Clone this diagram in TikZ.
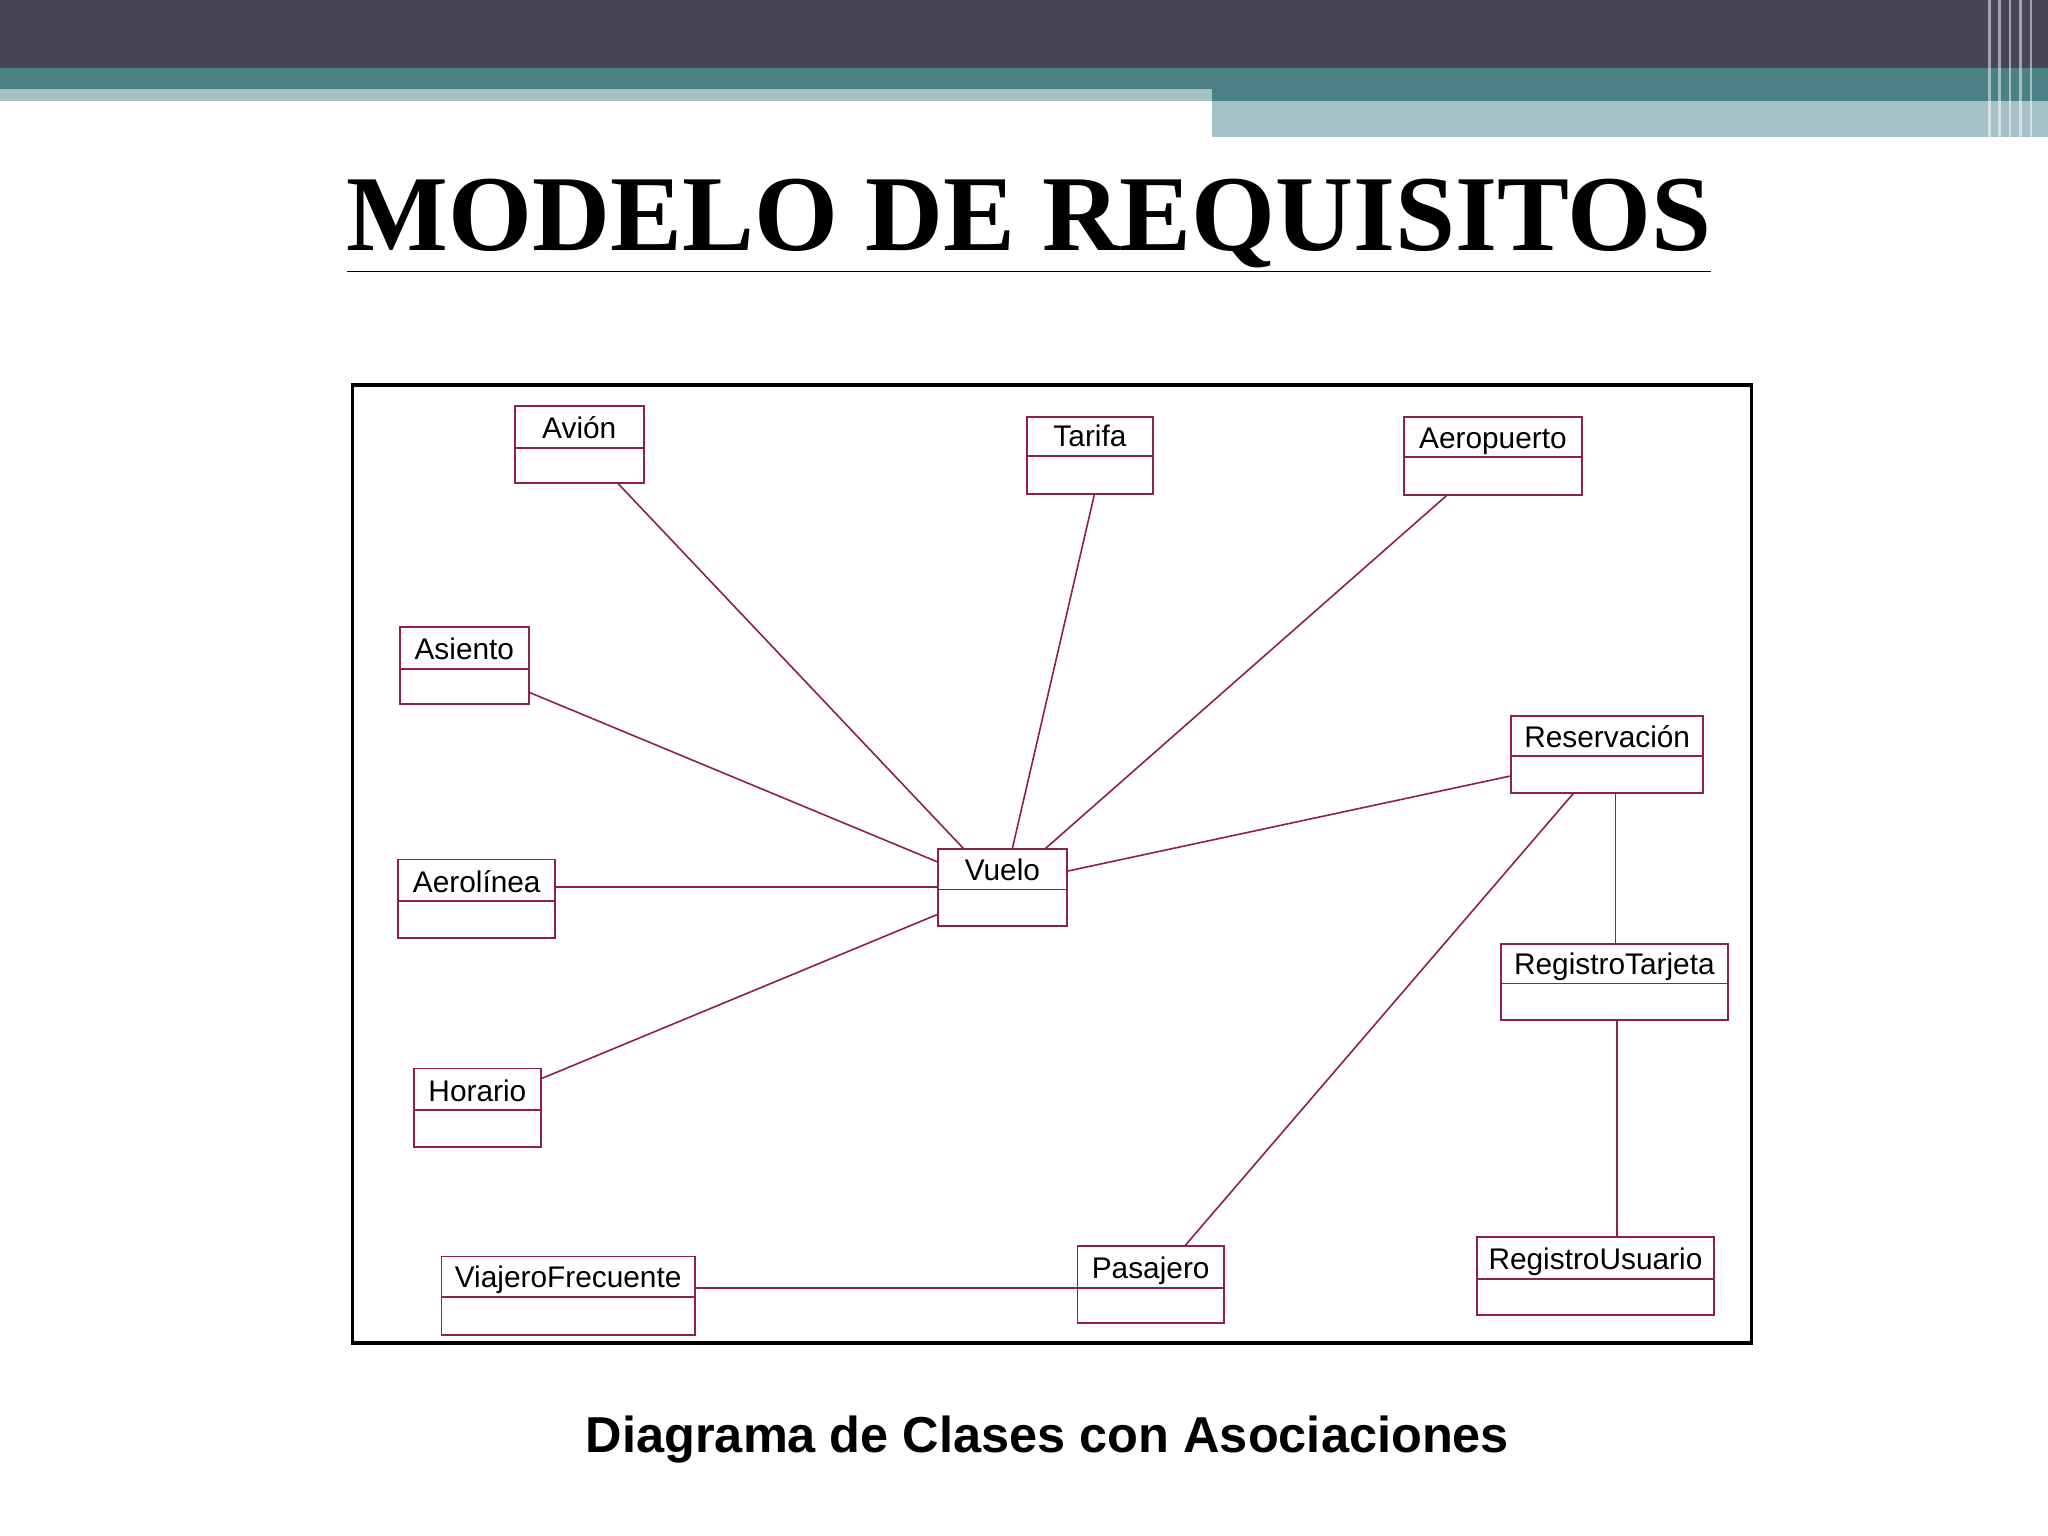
\documentclass[tikz,border=0pt]{standalone}
\usepackage{fontspec}
\setmainfont{Liberation Serif}
\setsansfont{Liberation Sans}
\usetikzlibrary{calc}
\definecolor{hdark}{HTML}{474657}
\definecolor{hteal}{HTML}{4A8086}
\definecolor{hlight}{HTML}{A4C2C5}
\definecolor{assoc}{HTML}{8E1F4F}
\tikzset{
  cls/.style={draw=assoc, line width=0.8pt, inner sep=0pt, outer sep=0pt},
  clsline/.style={draw=assoc, line width=0.8pt},
  clstext/.style={font=\sffamily\fontsize{13}{15}\selectfont, anchor=base},
  assocline/.style={draw=assoc, line width=0.7pt}
}
\newcommand\umlcls[7]{%
  \node[cls, anchor=north west, minimum width={(#4-#2)*0.02cm}, minimum height={(#6-#3)*0.02cm}] (#1) at (#2,#3) {};
  \draw[clsline] (#2,#5) -- (#4,#5);
  \node[clstext] (#1t) at ({(#2+#4)/2},{#5-7}) {#7};}
\begin{document}
\begin{tikzpicture}[x=0.02cm,y=-0.02cm]
\useasboundingbox (0,0) rectangle (1568,1176);
\fill[white] (0,0) rectangle (1568,1176);
% header
\fill[hdark] (0,0) rectangle (1568,52);
\fill[hteal] (0,52) rectangle (1568,68);
\fill[hlight] (0,68) rectangle (928,77);
\fill[hteal] (928,68) rectangle (1568,77);
\fill[hlight] (928,77) rectangle (1568,105);
\foreach \xx in {1522,1530,1538,1546,1554}
  \fill[white,opacity=0.5] (\xx,0) rectangle (\xx+2,105);
% title
\node[font=\bfseries\fontsize{47}{50}\selectfont, anchor=base] (title) at (788,192) {\underline{MODELO DE REQUISITOS}};
% frame
\draw[line width=1.6pt] (270,295) rectangle (1341,1028);
% classes
\umlcls{avion}{394}{311}{493}{343}{370}{Avión}
\umlcls{tarifa}{786}{319}{883}{349}{378}{Tarifa}
\umlcls{aeropuerto}{1075}{319}{1211}{350}{379}{Aeropuerto}
\umlcls{asiento}{306}{480}{405}{512}{539}{Asiento}
\umlcls{reserva}{1157}{548}{1304}{579}{607}{Reservación}
\umlcls{aerolinea}{305}{658}{425}{690}{718}{Aerolínea}
\umlcls{vuelo}{718}{650}{817}{681}{709}{Vuelo}
\umlcls{rtarjeta}{1149}{723}{1323}{753}{781}{RegistroTarjeta}
\umlcls{horario}{317}{818}{414}{850}{878}{Horario}
\umlcls{viajero}{338}{962}{532}{993}{1022}{ViajeroFrecuente}
\umlcls{pasajero}{825}{954}{937}{986}{1013}{Pasajero}
\umlcls{rusuario}{1131}{947}{1312}{979}{1007}{RegistroUsuario}
% associations
\draw[assocline] ($(avion.south west)+(79,0)$) -- ($(vuelo.north west)+(20,0)$);
\draw[assocline] ($(tarifa.south west)+(52,0)$) -- ($(vuelo.north west)+(57,0)$);
\draw[assocline] ($(aeropuerto.south west)+(33,0)$) -- ($(vuelo.north west)+(82,0)$);
\draw[assocline] ($(asiento.south east)+(0,-9)$) -- ($(vuelo.north west)+(0,10)$);
\draw[assocline] ($(aerolinea.north east)+(0,21)$) -- ($(vuelo.north west)+(0,29)$);
\draw[assocline] ($(horario.north east)+(0,8)$) -- ($(vuelo.south west)+(0,-9)$);
\draw[assocline] ($(vuelo.north east)+(0,17)$) -- ($(reserva.north west)+(0,46)$);
\draw[assocline] ($(reserva.south west)+(48,0)$) -- ($(pasajero.north west)+(82,0)$);
\draw[assocline] ($(reserva.south west)+(80,0)$) -- ($(rtarjeta.north west)+(88,0)$);
\draw[assocline] ($(rtarjeta.south west)+(89,0)$) -- ($(rusuario.north west)+(107,0)$);
\draw[assocline] ($(viajero.north east)+(0,24)$) -- ($(pasajero.north west)+(0,32)$);
% caption
\node[font=\sffamily\bfseries\fontsize{22}{26}\selectfont, anchor=base] (caption) at (802,1112) {Diagrama de Clases con Asociaciones};
\end{tikzpicture}
\end{document}
